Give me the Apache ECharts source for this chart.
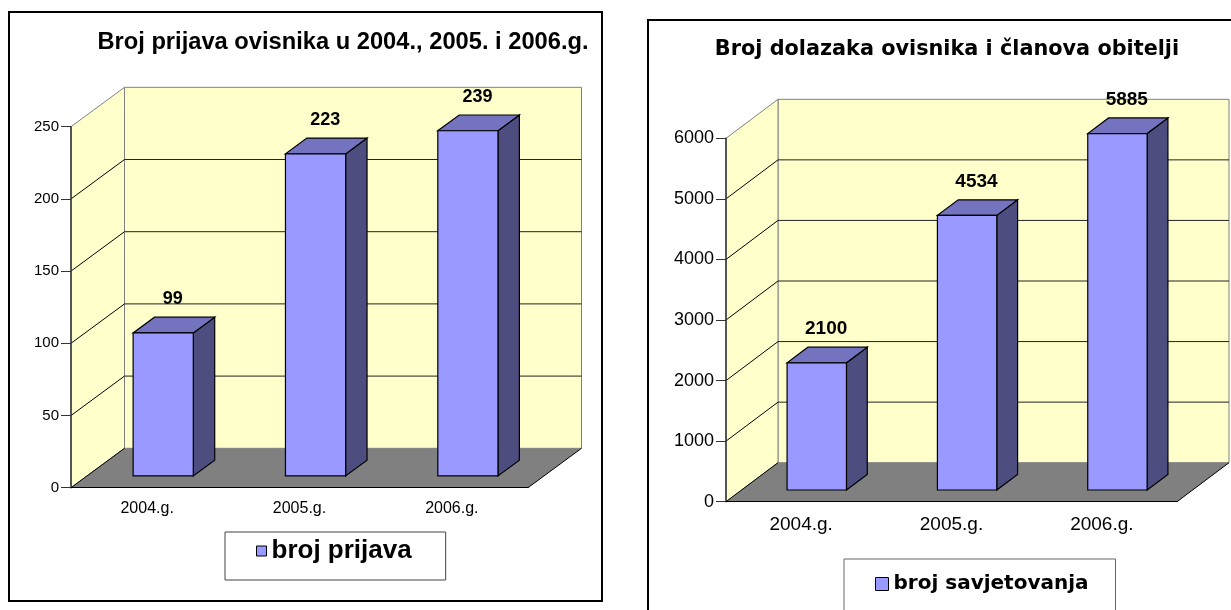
<!DOCTYPE html>
<html><head><meta charset="utf-8">
<script src="https://cdn.jsdelivr.net/npm/echarts@6/dist/echarts.min.js"></script>
<style>html,body{margin:0;padding:0;background:#fff}#c{width:1231px;height:610px}</style>
</head><body><div id="c"></div>
<script>
// ---------- data ----------
const categories = ['2004.g.', '2005.g.', '2006.g.'];
const prijavaValues = [99, 223, 239];
const savjetovanjaValues = [2100, 4534, 5885];
const prijavaTicks = [0, 50, 100, 150, 200, 250];
const savjetovanjaTicks = [0, 1000, 2000, 3000, 4000, 5000, 6000];
const prijavaTitle = 'Broj prijava ovisnika u 2004., 2005. i 2006.g.';
const savjetovanjaTitle = 'Broj dolazaka ovisnika i članova obitelji';
const prijavaName = 'broj prijava';
const savjetovanjaName = 'broj savjetovanja';

// ---------- styles ----------
const WALL = '#FFFFCC', FLOOR = '#808080', EDGE = '#808080', GRIDC = '#222';
const FRONT = '#9999FF', TOP = '#7373BF', SIDE = '#4D4D80';
const depthL = { dx: 53.5, dy: -39.4 };
const depthR = { dx: 52, dy: -39 };

function wallsRenderer(ticks, depth) {
  const maxT = ticks[ticks.length - 1];
  return function (params, api) {
    const cs = params.coordSys;
    const x0 = cs.x, x1 = cs.x + cs.width, yT = cs.y, yB = cs.y + cs.height;
    const dx = depth.dx, dy = depth.dy;
    const ch = [];
    ch.push({ type: 'rect', shape: { x: x0 + dx, y: yT + dy, width: cs.width, height: cs.height },
      style: { fill: WALL, stroke: EDGE, lineWidth: 1 } });
    ch.push({ type: 'polygon', shape: { points: [[x0, yB], [x0, yT], [x0 + dx, yT + dy], [x0 + dx, yB + dy]] },
      style: { fill: WALL, stroke: EDGE, lineWidth: 1 } });
    ticks.forEach(function (t) {
      if (t === 0 || t === maxT) return;
      const y = api.coord([0, t])[1];
      ch.push({ type: 'line', shape: { x1: x0 + dx, y1: y + dy, x2: x1 + dx, y2: y + dy }, style: { stroke: GRIDC, lineWidth: 1 } });
      ch.push({ type: 'line', shape: { x1: x0, y1: y, x2: x0 + dx, y2: y + dy }, style: { stroke: '#000', lineWidth: 1 } });
    });
    ch.push({ type: 'polygon', shape: { points: [[x0, yB], [x1, yB], [x1 + dx, yB + dy], [x0 + dx, yB + dy]] },
      style: { fill: FLOOR } });
    ch.push({ type: 'line', shape: { x1: x0, y1: yB, x2: x0 + dx, y2: yB + dy }, style: { stroke: '#000', lineWidth: 1 } });
    ch.push({ type: 'line', shape: { x1: x1, y1: yB, x2: x1 + dx, y2: yB + dy }, style: { stroke: '#000', lineWidth: 1 } });
    return { type: 'group', children: ch };
  };
}

function barRenderer(depth, labelSize) {
  return function (params, api) {
    const idx = api.value(0), v = api.value(1);
    const base = api.coord([idx, 0]);
    const top = api.coord([idx, v]);
    const band = api.size([1, 0])[0];
    const w = band * 0.395;
    const fx = depth.dx * 0.3, fy = depth.dy * 0.3;
    const bx = depth.dx * 0.4, by = depth.dy * 0.4;
    const L = base[0] + fx - w / 2, R = L + w;
    const T = top[1] + fy, B = base[1] + fy;
    return { type: 'group', children: [
      { type: 'polygon', shape: { points: [[R, T], [R + bx, T + by], [R + bx, B + by], [R, B]] },
        style: { fill: SIDE, stroke: '#000', lineWidth: 1.2 } },
      { type: 'polygon', shape: { points: [[L, T], [R, T], [R + bx, T + by], [L + bx, T + by]] },
        style: { fill: TOP, stroke: '#000', lineWidth: 1.2 } },
      { type: 'rect', shape: { x: L, y: T, width: w, height: B - T },
        style: { fill: FRONT, stroke: '#000', lineWidth: 1.2 } },
      { type: 'text', x: L + w / 2 + bx * 0.45, y: T + by - 18,
        style: { text: String(v), fill: '#000', font: 'bold ' + labelSize + 'px "Liberation Sans", Arial, sans-serif',
          textAlign: 'center', textVerticalAlign: 'middle' } }
    ] };
  };
}

function plain(v) { return String(v); }

const chart = echarts.init(document.getElementById('c'));
const fontL = '"Liberation Sans", Arial, sans-serif';

chart.setOption({
  backgroundColor: '#fff',
  animation: false,
  graphic: [
    { type: 'rect', shape: { x: 9, y: 12, width: 593, height: 589 }, style: { fill: 'none', stroke: '#000', lineWidth: 2 }, z: 0 },
    { type: 'rect', shape: { x: 648, y: 20, width: 620, height: 620 }, style: { fill: 'none', stroke: '#000', lineWidth: 2 }, z: 0 },
    { type: 'text', x: 343, y: 42, style: { text: prijavaTitle, fill: '#000', font: 'bold 23.7px ' + fontL, textAlign: 'center', textVerticalAlign: 'middle' }, z: 5 },
    { type: 'text', x: 947, y: 50, style: { text: savjetovanjaTitle, fill: '#000', font: 'bold 20.8px "DejaVu Sans", sans-serif', textAlign: 'center', textVerticalAlign: 'middle' }, z: 5 }
  ],
  legend: [
    { data: [prijavaName], left: 225, top: 532, padding: [6, 34, 16, 31], itemWidth: 10, itemHeight: 10, icon: 'rect',
      itemStyle: { borderColor: '#000', borderWidth: 1 }, selectedMode: false,
      textStyle: { fontSize: 26, fontWeight: 'bold', fontFamily: 'Liberation Sans', color: '#000', lineHeight: 26 },
      borderColor: '#444', borderWidth: 1, backgroundColor: '#fff' },
    { data: [savjetovanjaName], left: 844, top: 559, padding: [14, 27, 30, 31], itemWidth: 13, itemHeight: 13, icon: 'rect',
      itemStyle: { borderColor: '#000', borderWidth: 1 }, selectedMode: false,
      textStyle: { fontSize: 20, fontWeight: 'bold', fontFamily: 'DejaVu Sans', color: '#000', lineHeight: 22 },
      borderColor: '#666', borderWidth: 1, backgroundColor: '#fff' }
  ],
  grid: [
    { left: 71, top: 126.7, width: 457, height: 361 },
    { left: 726, top: 138.3, width: 451, height: 363.4 }
  ],
  xAxis: [
    { gridIndex: 0, type: 'category', data: categories, z: 10,
      axisLine: { lineStyle: { color: '#000', width: 1.2 } },
      axisTick: { length: 6, lineStyle: { color: '#000' } },
      axisLabel: { fontSize: 16, color: '#000', margin: 13, fontFamily: 'Liberation Sans' },
      splitLine: { show: false } },
    { gridIndex: 1, type: 'category', data: categories, z: 10,
      axisLine: { lineStyle: { color: '#000', width: 1.2 } },
      axisTick: { length: 6, lineStyle: { color: '#000' } },
      axisLabel: { fontSize: 19, color: '#000', margin: 14, fontFamily: 'Liberation Sans' },
      splitLine: { show: false } }
  ],
  yAxis: [
    { gridIndex: 0, type: 'value', min: prijavaTicks[0], max: prijavaTicks[prijavaTicks.length - 1], interval: prijavaTicks[1] - prijavaTicks[0], z: 10,
      axisLine: { show: true, lineStyle: { color: '#333', width: 1.5 } },
      axisTick: { show: true, length: 10, lineStyle: { color: '#333' } },
      axisLabel: { fontSize: 15, color: '#000', margin: 12, fontFamily: 'Liberation Sans', formatter: plain },
      splitLine: { show: false } },
    { gridIndex: 1, type: 'value', min: savjetovanjaTicks[0], max: savjetovanjaTicks[savjetovanjaTicks.length - 1], interval: savjetovanjaTicks[1] - savjetovanjaTicks[0], z: 10,
      axisLine: { show: true, lineStyle: { color: '#333', width: 1.5 } },
      axisTick: { show: true, length: 10, lineStyle: { color: '#333' } },
      axisLabel: { fontSize: 18, color: '#000', margin: 12, fontFamily: 'Liberation Sans', formatter: plain },
      splitLine: { show: false } }
  ],
  series: [
    { type: 'custom', name: 'wallsL', xAxisIndex: 0, yAxisIndex: 0, z: 1, silent: true,
      renderItem: wallsRenderer(prijavaTicks, depthL), data: [[0, 0]] },
    { type: 'custom', name: prijavaName, xAxisIndex: 0, yAxisIndex: 0, z: 3,
      itemStyle: { color: FRONT },
      renderItem: barRenderer(depthL, 18),
      data: categories.map(function (c, i) { return [i, prijavaValues[i]]; }) },
    { type: 'custom', name: 'wallsR', xAxisIndex: 1, yAxisIndex: 1, z: 1, silent: true,
      renderItem: wallsRenderer(savjetovanjaTicks, depthR), data: [[0, 0]] },
    { type: 'custom', name: savjetovanjaName, xAxisIndex: 1, yAxisIndex: 1, z: 3,
      itemStyle: { color: FRONT },
      renderItem: barRenderer(depthR, 19),
      data: categories.map(function (c, i) { return [i, savjetovanjaValues[i]]; }) }
  ]
});
</script>
</body></html>
